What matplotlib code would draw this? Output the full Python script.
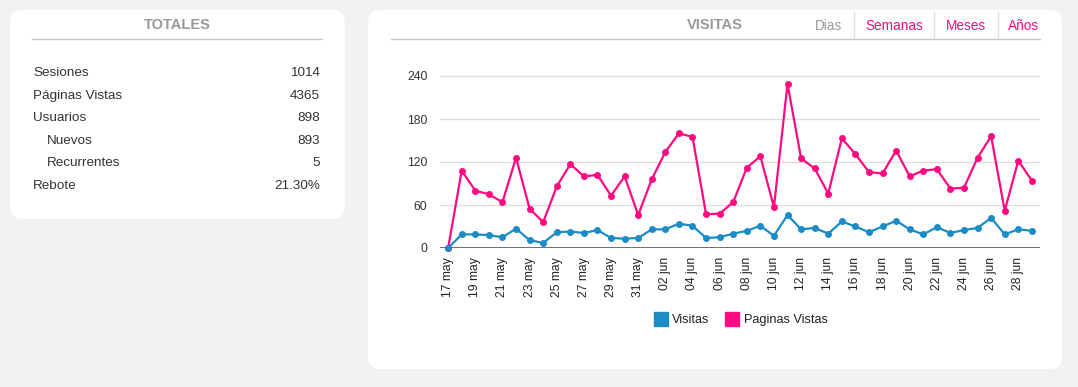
import matplotlib.pyplot as plt
from matplotlib.patches import FancyBboxPatch
from matplotlib.lines import Line2D
import numpy as np

plt.rcParams['font.family'] = ['Liberation Sans', 'DejaVu Sans']

# daily data, 17 may -> 29 jun
dias = ['17 may', '18 may', '19 may', '20 may', '21 may', '22 may', '23 may', '24 may',
        '25 may', '26 may', '27 may', '28 may', '29 may', '30 may', '31 may',
        '01 jun', '02 jun', '03 jun', '04 jun', '05 jun', '06 jun', '07 jun', '08 jun',
        '09 jun', '10 jun', '11 jun', '12 jun', '13 jun', '14 jun', '15 jun', '16 jun',
        '17 jun', '18 jun', '19 jun', '20 jun', '21 jun', '22 jun', '23 jun', '24 jun',
        '25 jun', '26 jun', '27 jun', '28 jun', '29 jun']
visitas = [0, 19, 19, 18, 15, 27, 11, 7, 22, 23, 21, 25, 14, 13, 14,
           26, 26, 34, 31, 14, 15, 20, 24, 31, 17, 46, 26, 28, 20, 37, 30,
           22, 30, 38, 26, 19, 29, 21, 25, 28, 42, 19, 26, 24]
paginas = [0, 108, 80, 75, 64, 126, 55, 36, 86, 117, 100, 102, 73, 100, 46,
           96, 134, 160, 155, 47, 48, 64, 112, 128, 57, 229, 125, 111, 76, 153, 131,
           106, 104, 136, 100, 108, 110, 83, 84, 126, 156, 52, 122, 94]
yticks = [0, 60, 120, 180, 240]

tot_labels = ['Sesiones', 'Páginas Vistas', 'Usuarios', 'Nuevos', 'Recurrentes', 'Rebote']
tot_values = ['1014', '4365', '898', '893', '5', '21.30%']
tot_indent = [False, False, False, True, True, False]

tabs = ['Dias', 'Semanas', 'Meses', 'Años']

BLUE = '#1b8cc6'
PINK = '#ff0a80'
W, H = 1078, 387

fig = plt.figure(figsize=(W / 100, H / 100), dpi=100, facecolor='#f2f2f2')


def px(x, y):
    return x / W, 1 - y / H


def panel(x0, y0, x1, y1):
    fx0, fy1 = px(x0, y0)
    fx1, fy0 = px(x1, y1)
    fig.patches.append(FancyBboxPatch((fx0, fy0), fx1 - fx0, fy1 - fy0,
                                      boxstyle='round,pad=0,rounding_size=0.012',
                                      transform=fig.transFigure, facecolor='white',
                                      edgecolor='none', mutation_aspect=W / H, zorder=-5))


def hline(x0, x1, y, color='#c8c8c8', lw=1):
    a, b = px(x0, y)
    c, _ = px(x1, y)
    fig.add_artist(Line2D([a, c], [b, b], transform=fig.transFigure, color=color, lw=lw))


def vline(x, y0, y1, color='#e2e2e2', lw=1):
    a, b = px(x, y0)
    _, d = px(x, y1)
    fig.add_artist(Line2D([a, a], [b, d], transform=fig.transFigure, color=color, lw=lw))


# panels
panel(10, 10, 345, 219)
panel(368, 10, 1062, 369)

# left panel: totales
fig.text(*px(177, 25), 'TOTALES', ha='center', va='center', fontsize=10.5,
         fontweight='bold', color='#999999')
hline(32, 322, 39)
for i, (lab, val) in enumerate(zip(tot_labels, tot_values)):
    y = 73 + i * 22.6
    x = 47 if tot_indent[i] else 33
    fig.text(*px(x, y), lab, ha='left', va='center', fontsize=9.7, color='#333333')
    fig.text(*px(320, y), val, ha='right', va='center', fontsize=9.7, color='#333333')

# right panel header
fig.text(*px(715, 25), 'VISITAS', ha='center', va='center', fontsize=10.5,
         fontweight='bold', color='#999999')
hline(391, 1040, 39)
tab_x = [828, 894, 966, 1024]
for i, (t, x) in enumerate(zip(tabs, tab_x)):
    fig.text(*px(x, 26), t, ha='center', va='center', fontsize=9.8,
             color='#999999' if i == 0 else PINK)
for x in [854, 934, 998]:
    vline(x, 12, 38)

# chart
ax_l, ax_r, ax_b = 440, 1040, 248
ymax = 262
ax_t = ax_b - ymax * 172 / 240
ax = fig.add_axes([ax_l / W, 1 - ax_b / H, (ax_r - ax_l) / W, (ax_b - ax_t) / H])
ax.set_facecolor('none')
x = np.arange(len(dias))
ax.plot(x, paginas, color=PINK, lw=1.6, marker='o', ms=4, zorder=3, clip_on=False)
ax.plot(x, visitas, color=BLUE, lw=1.6, marker='o', ms=4, zorder=4, clip_on=False)
ax.set_ylim(0, ymax)
ax.set_xlim(-0.6, 43.6)
ax.set_yticks(yticks)
for yv in yticks[1:]:
    ax.axhline(yv, color='#dddddd', lw=1, zorder=1)
ax.axhline(0, color='#555555', lw=1.2, zorder=2)
for s in ax.spines.values():
    s.set_visible(False)
ax.set_xticks(x[::2])
ax.set_xticklabels(dias[::2], rotation=90, fontsize=8.7, color='#222222')
ax.tick_params(axis='both', length=0)
ax.tick_params(axis='x', pad=6.5)
ax.tick_params(axis='y', pad=9, labelsize=8.7, labelcolor='#333333')

handles = [Line2D([], [], ls='none', marker='s', ms=9.5, color=BLUE),
           Line2D([], [], ls='none', marker='s', ms=9.5, color=PINK)]
fig.legend(handles, ['Visitas', 'Paginas Vistas'], loc='center', bbox_to_anchor=px(741, 320),
           ncol=2, frameon=False, fontsize=9.2, handlelength=1.0, handletextpad=0.4,
           columnspacing=1.3, labelcolor='#222222')

fig.savefig('out.png', dpi=100, facecolor=fig.get_facecolor())
